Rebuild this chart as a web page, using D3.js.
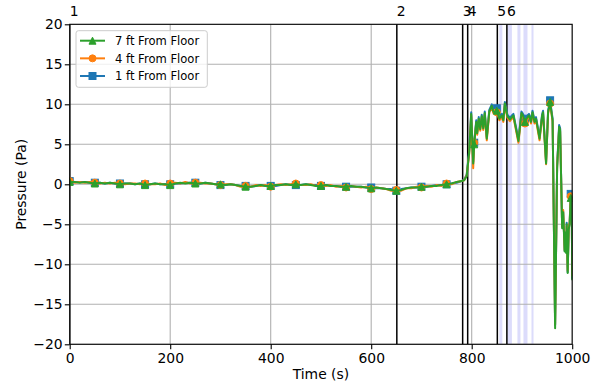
<!DOCTYPE html>
<html><head><meta charset="utf-8">
<script src="https://cdn.jsdelivr.net/npm/d3@7"></script>
<style>body{margin:0;background:#fff}svg{display:block;font-family:"DejaVu Sans",sans-serif}</style>
</head><body><svg id="c" width="599" height="387"></svg>
<script>
// ---- data ----
const flatTimes = d3.range(0, 781, 10);
const dynTimes = [785,790,795,799,803, 805,809,811,814,817, 820,823,826,830,835, 840,843,847,850,855,
  860,863,866,871,876, 880,883,888,893,899, 902,906,911,914,918, 921,925,928,935,940,
  942,948,952,956,959, 961,966,970,974,976, 980,982,985,987,988, 989,991,993,995,997, 999,1000];

const green7Flat = [0.3,0.3,0.2,0.3,0.2,0.1,0.2,0.1,0.2,0.1, 0.0,0.1,0.1,0.0,0.1,-0.1,0.0,0.1,0.0,0.0,
  -0.1,0.1,0.2,0.1,0.2,0.1,0.1,0.2,0.1,0.0, 0.0,-0.1,0.0,-0.1,-0.2,-0.3,-0.3,-0.2,-0.1,-0.2,
  -0.2,-0.1,-0.1,0.0,-0.1,0.0,-0.1,0.0,-0.1,-0.2, -0.2,-0.1,-0.2,-0.2,-0.3,-0.3,-0.2,-0.3,-0.3,-0.4,
  -0.5,-0.4,-0.5,-0.6,-0.7,-0.8,-0.7,-0.5,-0.4,-0.4, -0.3,-0.3,-0.2,-0.2,-0.1,0.0,0.1,0.3,0.4];
const green7Dyn = [0.5,1.0,4.0,8.8,2.6, 5.0,7.8,6.4,8.2,6.9, 8.5,7.0,8.9,5.7,9.1, 9.8,9.1,9.0,9.2,8.2,
  8.6,8.0,10.1,8.5,8.1, 8.4,8.6,7.0,5.4,8.9, 8.6,7.8,8.4,8.6,7.8, 9.0,7.8,8.2,5.7,8.5,
  9.0,2.6,9.0,10.3,8.9, 8.0,-18.0,2.0,7.2,6.8, -5.5,-3.5,-8.4,-6.0,-8.6, -5.0,-11.1,-5.7,-4.9,-1.7, -1.6,-12.0];

const orange4Flat = [0.4,0.2,0.3,0.2,0.3,0.2,0.1,0.2,0.1,0.2, 0.1,0.0,0.1,0.1,0.0,0.1,0.0,0.0,0.1,-0.1,
  0.1,0.2,0.1,0.3,0.1,0.2,0.2,0.1,0.1,0.0, -0.1,0.0,0.0,-0.1,-0.3,-0.2,-0.3,-0.1,-0.2,-0.1,
  -0.3,-0.1,0.0,-0.1,0.0,0.1,-0.1,-0.1,0.0,-0.2, -0.1,-0.2,-0.1,-0.3,-0.2,-0.4,-0.2,-0.3,-0.4,-0.3,
  -0.6,-0.4,-0.5,-0.6,-0.8,-0.7,-0.8,-0.5,-0.5,-0.3, -0.4,-0.2,-0.3,-0.1,-0.2,0.1,0.0,0.3,0.4];
const orange4Dyn = [0.5,1.1,3.8,8.6,2.0, 5.2,7.6,6.2,8.0,6.7, 8.3,6.8,8.7,5.5,9.0, 9.6,8.9,8.8,9.0,8.0,
  8.4,7.8,9.9,8.3,7.9, 8.2,8.4,6.8,5.2,8.7, 8.4,7.6,8.2,8.4,7.6, 8.8,7.6,8.0,5.5,8.3,
  8.8,2.5,8.8,10.1,8.7, 7.8,-17.5,2.2,7.0,6.6, -5.2,-3.2,-8.2,-6.6,-8.4, -5.2,-10.8,-5.5,-4.7,-1.5, -1.4,-11.5];

const blue1Flat = [0.4,0.3,0.3,0.3,0.2,0.2,0.2,0.1,0.2,0.1, 0.1,0.1,0.1,0.0,0.1,0.0,0.0,0.1,0.0,0.0,
  0.0,0.1,0.1,0.2,0.2,0.2,0.1,0.2,0.1,0.0, -0.1,-0.1,0.0,-0.1,-0.2,-0.2,-0.3,-0.2,-0.1,-0.2,
  -0.2,-0.2,-0.1,0.0,-0.1,-0.1,-0.1,0.0,-0.1,-0.1, -0.2,-0.1,-0.2,-0.2,-0.3,-0.3,-0.3,-0.3,-0.3,-0.4,
  -0.4,-0.5,-0.5,-0.6,-0.6,-0.8,-0.6,-0.5,-0.4,-0.4, -0.3,-0.3,-0.2,-0.1,-0.1,0.0,0.1,0.2,0.4];
const blue1Dyn = [0.6,1.2,4.2,9.0,2.8, 5.2,8.0,6.6,8.4,7.1, 8.7,7.2,9.1,5.9,9.3, 10.0,9.3,9.3,9.5,8.5,
  8.8,8.2,10.3,8.7,8.3, 8.6,8.8,7.2,5.6,9.1, 8.8,8.2,8.6,8.8,8.0, 9.2,8.0,8.4,5.9,8.7,
  9.2,2.8,9.2,10.5,9.1, 8.2,-17.6,2.4,7.4,7.0, -5.3,-3.3,-8.3,-6.2,-8.5, -4.8,-11.0,-5.6,-4.8,-1.2, -1.5,-11.8];

const markerTimes = [0,50,100,150,200,250,300,350,400,450,500,550,600,650,700,750,805,850,906,956,997];
const eventTimes = [0, 651, 782, 792, 851, 870];
const eventLabels = ["1","2","3","4","5","6"];
const bandStart = [855, 871, 891, 903, 919];
const bandEnd = [861, 880, 897, 911, 923];
const xTicks = [0,200,400,600,800,1000];
const yTicks = [-20,-15,-10,-5,0,5,10,15,20];

const seriesNames = ["1 ft From Floor","4 ft From Floor","7 ft From Floor"];
const seriesColors = ["#1f77b4","#ff7f0e","#2ca02c"];
const seriesMarkers = ["square","circle","triangle"];

// ---- build ----
const times = flatTimes.concat(dynTimes);
const seriesVals = [blue1Flat.concat(blue1Dyn), orange4Flat.concat(orange4Dyn), green7Flat.concat(green7Dyn)];

const L = 69.7, R = 572.2, T = 24.3, B = 344.3;
const x = d3.scaleLinear([0,1000],[L,R]);
const y = d3.scaleLinear([-20,20],[B,T]);
const svg = d3.select("#c");
const FS = 13.9;

svg.append("defs").append("clipPath").attr("id","clip")
  .append("rect").attr("x",L).attr("y",T).attr("width",R-L).attr("height",B-T);

const plot = svg.append("g").attr("clip-path","url(#clip)");
// bands
plot.selectAll(".band").data(bandStart).join("rect")
  .attr("x",(d)=>x(d)).attr("y",T).attr("width",(d,i)=>x(bandEnd[i])-x(d)).attr("height",B-T)
  .attr("fill","#dcdcfb");
// grid
plot.selectAll(".gx").data(xTicks).join("line")
  .attr("x1",d=>x(d)).attr("x2",d=>x(d)).attr("y1",T).attr("y2",B)
  .attr("stroke","#b0b0b0").attr("stroke-width",1.1);
plot.selectAll(".gy").data(yTicks).join("line")
  .attr("y1",d=>y(d)).attr("y2",d=>y(d)).attr("x1",L).attr("x2",R)
  .attr("stroke","#b0b0b0").attr("stroke-width",1.1);
// event lines
plot.selectAll(".ev").data(eventTimes).join("line")
  .attr("x1",d=>x(d)).attr("x2",d=>x(d)).attr("y1",T).attr("y2",B)
  .attr("stroke","#000").attr("stroke-width",1.5);

function drawMarker(g, type, cx, cy, color, s){
  if(type==="square"){
    g.append("rect").attr("x",cx-s/2).attr("y",cy-s/2).attr("width",s).attr("height",s)
      .attr("fill",color).attr("stroke",color).attr("stroke-width",1);
  } else if(type==="circle"){
    g.append("circle").attr("cx",cx).attr("cy",cy).attr("r",s/2)
      .attr("fill",color).attr("stroke",color).attr("stroke-width",1);
  } else {
    g.append("path").attr("d",`M${cx},${cy-s/2}L${cx-s/2},${cy+s/2}L${cx+s/2},${cy+s/2}Z`)
      .attr("fill",color).attr("stroke",color).attr("stroke-width",1);
  }
}

const line = d3.line().x((d,i)=>x(times[i])).y(d=>y(d));
seriesVals.forEach((vals,k)=>{
  const g = plot.append("g");
  g.append("path").attr("d",line(vals)).attr("fill","none")
    .attr("stroke",seriesColors[k]).attr("stroke-width",2).attr("stroke-linejoin","round");
  markerTimes.forEach(t=>{
    const i = times.indexOf(t);
    if(i>=0) drawMarker(g, seriesMarkers[k], x(t), y(vals[i]), seriesColors[k], 7);
  });
});

// axes
const gx = svg.append("g").attr("transform",`translate(0,${B})`)
  .call(d3.axisBottom(x).tickValues(xTicks).tickSize(4.9).tickPadding(3.6).tickFormat(d3.format("d")));
const gy = svg.append("g").attr("transform",`translate(${L},0)`)
  .call(d3.axisLeft(y).tickValues(yTicks).tickSize(4.9).tickPadding(2.2).tickFormat(d3.format("d")));
[gx,gy].forEach(g=>{
  g.select(".domain").remove();
  g.selectAll("line").attr("stroke","#000").attr("stroke-width",1.1);
  g.selectAll("text").attr("font-size",FS).attr("font-family","DejaVu Sans").attr("fill","#000");
});
// spines
svg.append("rect").attr("x",L).attr("y",T).attr("width",R-L).attr("height",B-T)
  .attr("fill","none").attr("stroke","#000").attr("stroke-width",1.1);

// event labels
svg.selectAll(".evl").data(eventTimes).join("text")
  .attr("x",d=>x(d)).attr("y",15.7).attr("font-size",FS).attr("fill","#000")
  .text((d,i)=>eventLabels[i]);

// axis labels
svg.append("text").attr("x",(L+R)/2).attr("y",379.4).attr("text-anchor","middle")
  .attr("font-size",FS).text("Time (s)");
svg.append("text").attr("transform",`translate(25.5,${(T+B)/2}) rotate(-90)`)
  .attr("text-anchor","middle").attr("font-size",FS).text("Pressure (Pa)");

// legend
const lg = svg.append("g");
lg.append("rect").attr("x",76).attr("y",30.7).attr("width",131.3).attr("height",56.6).attr("rx",2.5)
  .attr("fill","#fff").attr("fill-opacity",0.8).attr("stroke","#cccccc").attr("stroke-width",1);
const order = [2,1,0];
order.forEach((k,r)=>{
  const cy = 40.7 + r*17.65;
  lg.append("line").attr("x1",80).attr("x2",105).attr("y1",cy).attr("y2",cy)
    .attr("stroke",seriesColors[k]).attr("stroke-width",2);
  drawMarker(lg, seriesMarkers[k], 92.5, cy, seriesColors[k], 7);
  lg.append("text").attr("x",115).attr("y",cy+4.2).attr("font-size",11.57).attr("fill","#000")
    .text(seriesNames[k]);
});
</script></body></html>
